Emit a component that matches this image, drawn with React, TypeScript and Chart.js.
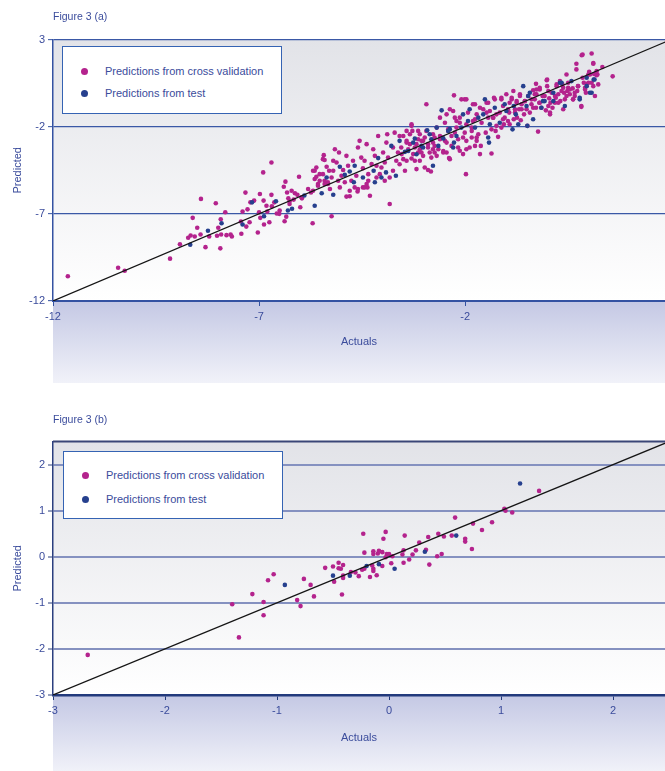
import React, { useEffect, useRef } from 'react';
import { Chart, registerables } from 'chart.js';

Chart.register(...registerables);

type Pt = [number, number];

// ---------- shared labels ----------
const SERIES_LABELS = ['Predictions from cross validation', 'Predictions from test'];
const X_TITLE = 'Actuals';
const Y_TITLE = 'Predicted';

// ---------- Figure 3 (a) ----------
const TITLE_A = 'Figure 3 (a)';
const X_RANGE_A: Pt = [-12, 2.85];
const Y_RANGE_A: Pt = [-12, 3];
const X_TICKS_A = [-12, -7, -2];
const Y_TICKS_A = [3, -2, -7, -12];
const DIAG_A = [-12, 3];

const CV_A: Pt[] = [
  [-11.64, -10.58], [-10.42, -10.09], [-10.26, -10.26], [-9.16, -9.57], [-8.92, -8.75], [-8.72, -8.37],
  [-8.66, -8.24], [-8.56, -8.3], [-8.61, -7.23], [-8.5, -7.8], [-8.41, -6.14], [-8.42, -8.18], [-8.3, -8.91],
  [-8.21, -8.3], [-8.05, -6.39], [-8.02, -8.26], [-7.99, -7.8], [-7.93, -7.31], [-7.94, -8.98], [-7.92, -8.18],
  [-7.82, -6.91], [-7.79, -8.22], [-7.69, -8.18], [-7.66, -8.3], [-7.44, -7.44], [-7.43, -8.14], [-7.4, -6.87],
  [-7.33, -5.78], [-7.31, -7.73], [-7.28, -6.74], [-7.23, -7.48], [-7.21, -6.34], [-7.12, -6.24], [-7.0, -6.91],
  [-6.98, -5.86], [-7.03, -8.07], [-6.97, -7.23], [-6.89, -6.24], [-6.9, -4.62], [-6.88, -7.61], [-6.82, -6.53],
  [-6.8, -6.87], [-6.75, -7.48], [-6.7, -4.05], [-6.69, -6.57], [-6.7, -5.91], [-6.63, -6.34], [-6.57, -6.98],
  [-6.51, -7.0], [-6.5, -6.81], [-6.4, -5.44], [-6.36, -5.15], [-6.38, -7.42], [-6.34, -7.16], [-6.32, -5.77],
  [-6.29, -6.11], [-6.26, -6.28], [-6.26, -6.43], [-6.21, -5.67], [-6.16, -6.18], [-6.13, -5.82], [-6.07, -5.91],
  [-6.03, -4.87], [-6.0, -6.62], [-5.96, -6.11], [-5.81, -5.57], [-5.74, -5.77], [-5.7, -7.54], [-5.69, -4.53],
  [-5.65, -5.0], [-5.61, -4.34], [-5.57, -5.29], [-5.53, -4.72], [-5.43, -3.63], [-5.45, -3.86], [-5.41, -5.29],
  [-5.33, -5.19],
  [-5.97, -6.05], [-5.69, -5.67], [-5.65, -4.53], [-5.61, -4.87], [-5.53, -5.1], [-5.45, -4.72], [-5.41, -3.91],
  [-5.36, -4.3], [-5.33, -5.29], [-5.28, -5.57], [-5.24, -4.91], [-5.2, -4.53], [-5.16, -3.29], [-5.12, -4.05],
  [-5.06, -3.48], [-5.0, -4.81], [-4.96, -4.48], [-4.92, -5.19], [-4.88, -6.01], [-4.84, -4.24], [-4.76, -5.1],
  [-4.72, -3.95], [-4.64, -4.81], [-4.6, -5.57], [-4.56, -2.81], [-4.52, -3.77], [-4.48, -4.38], [-4.44, -3.95],
  [-4.39, -5.29], [-4.35, -4.72], [-4.31, -5.96], [-4.27, -4.14], [-4.23, -3.29], [-4.19, -3.67], [-4.15, -4.24],
  [-4.11, -2.53], [-4.07, -4.72], [-3.99, -3.48], [-3.95, -4.05], [-3.89, -2.43], [-3.87, -3.77], [-3.83, -4.91],
  [-3.75, -3.19], [-3.71, -2.34], [-3.67, -3.95], [-3.63, -3.48], [-3.55, -3.19], [-3.5, -3.86], [-3.46, -4.53],
  [-3.42, -2.91], [-3.34, -2.43], [-3.3, -1.86], [-3.3, -3.82], [-3.22, -3.19], [-3.18, -4.43], [-3.14, -2.72],
  [-3.1, -3.95], [-3.06, -3.48], [-3.02, -2.81], [-2.98, -4.34], [-2.94, -0.71], [-2.9, -3.19], [-2.82, -3.77],
  [-2.78, -2.91], [-2.74, -3.48], [-2.69, -2.05], [-2.61, -2.53], [-2.53, -3.39], [-2.49, -2.81], [-2.45, -1.29],
  [-2.41, -2.24], [-2.39, -3.8], [-2.33, -3.1], [-2.29, -1.1], [-2.27, -0.2], [-2.25, -2.34], [-2.21, -1.67],
  [-2.17, -3.19], [-2.13, -1.48], [-2.05, -2.62], [-2.01, -0.43], [-1.98, -4.72], [-1.97, -1.86], [-1.93, -1.19],
  [-1.84, -2.24], [-1.81, -1.67], [-1.76, -0.71], [-1.72, -1.29], [-1.68, -2.43], [-3.83, -6.43], [-2.9, -4.48],
  [-2.83, -4.57],
  [-4.8, -5.99], [-5.24, -7.14], [-4.61, -5.71], [-4.48, -5.48], [-4.37, -5.48],
  [-5.57, -5.38], [-5.41, -5.1], [-5.3, -4.53], [-5.08, -5.1], [-5.04, -5.48], [-4.8, -5.67], [-4.68, -5.48],
  [-4.44, -5.48], [-4.35, -5.1], [-4.15, -4.91], [-4.03, -4.34], [-3.95, -5.1], [-3.75, -4.53], [-3.59, -4.15],
  [-3.42, -3.95], [-3.22, -3.95], [-3.02, -3.67], [-5.2, -3.95], [-4.88, -3.67], [-4.6, -3.19], [-4.39, -3.0],
  [-3.91, -2.91], [-3.59, -2.53], [-3.42, -2.24], [-3.14, -2.24],
  [-1.56, -1.0], [-1.48, -1.19], [-1.44, -1.48], [-1.36, -2.15], [-1.36, -3.54], [-1.28, -0.43], [-1.24, -1.29],
  [-1.2, -2.58], [-1.12, -0.34], [-1.08, -0.81], [-1.04, -1.48], [-0.96, -1.67], [-0.92, -0.62], [-0.87, -0.43],
  [-0.83, 0.05], [-0.79, -1.0], [-0.74, -1.48], [-0.67, -0.14], [-0.65, -1.63], [-0.55, -0.53], [-0.51, -1.0],
  [-0.39, -0.71], [-0.31, -0.43], [-0.27, -0.14], [-0.23, -2.28], [-0.19, 0.23], [-0.15, -0.91], [-0.07, -0.24],
  [-0.02, 0.67], [0.02, 0.05], [0.06, -1.29], [0.07, -0.62], [0.18, -0.62], [0.22, 0.43], [0.26, -0.14],
  [0.3, 0.62], [0.38, -1.0], [0.42, -0.43], [0.46, 1.0], [0.5, 0.23], [0.54, -0.14], [0.62, -0.43], [0.7, 1.61],
  [0.74, 0.33], [0.82, -0.81], [0.85, 2.14], [0.91, 0.23], [0.99, 0.52], [1.03, 1.0], [1.07, 2.2], [1.11, 1.61],
  [1.11, 0.33], [1.15, -0.24], [1.21, 1.0], [1.33, 1.43], [1.58, 0.89], [-2.41, -2.14], [-2.74, -2.62],
  [-2.05, -3.57], [-2.37, -3.86], [-1.97, -3.29], [-1.64, -3.57], [-1.72, -2.81], [-1.89, -3.19],
  [-1.44, -0.62], [-1.32, -1.48], [-1.26, -2.24], [-1.12, -2.05], [-1.06, -1.86], [-0.93, -1.19], [-0.82, -1.57],
  [-0.75, -0.62], [-0.69, -1.0], [-0.63, -0.71], [-0.57, -1.29], [-0.43, -1.19], [-0.28, -0.91], [-0.2, -0.62],
  [-0.12, -0.24], [-0.04, -1.06], [0.04, -0.37], [0.12, -0.91], [0.2, -0.34], [0.31, -0.53], [0.4, -0.05],
  [0.48, 0.05], [0.61, 0.2], [0.66, -0.24], [0.72, 0.05], [0.88, 0.52], [0.36, 0.43], [-0.01, 0.33],
  [-0.19, 0.14], [-0.35, 0.09], [-0.28, 0.46],
  [0.83, 2.1], [1.13, 1.03], [1.01, 1.15], [1.19, 0.96], [0.95, 0.43], [0.93, -0.05], [-0.01, 0.71],
  [-3.5, -2.53], [-3.42, -2.81], [-3.38, -3.29], [-3.3, -1.95], [-3.28, -2.24], [-3.18, -3.0], [-3.14, -3.48],
  [-3.1, -2.43], [-3.06, -2.81], [-2.98, -2.62], [-2.94, -2.24], [-2.9, -3.0], [-2.86, -3.48], [-2.78, -2.43],
  [-2.74, -3.1], [-2.65, -3.29], [-2.61, -1.48], [-2.55, -2.62], [-2.53, -3.48], [-2.49, -1.77], [-2.45, -2.91],
  [-2.37, -1.0], [-2.33, -2.53], [-2.25, -1.48], [-2.21, -2.05], [-2.17, -2.72], [-2.13, -1.77], [-2.09, -0.43],
  [-2.01, -2.34], [-1.97, -0.43], [-1.84, -2.05], [-1.81, -0.71], [-1.76, -1.57], [-1.72, -2.62], [-1.64, -0.91],
  [-1.62, -3.1], [-1.6, -1.77], [-1.5, -2.34], [-1.48, -0.62], [-1.4, -1.1], [-1.32, -1.48], [-1.3, -0.34],
  [-1.24, -1.95], [-1.16, -1.19], [-1.12, -0.43], [-1.08, -1.57], [-1.0, -0.14], [-0.96, -1.0], [-0.92, -1.86],
  [-0.87, -0.34], [-0.79, -1.19], [-0.75, -0.53], [-0.67, -0.24], [-0.63, -1.0], [-0.55, -0.53], [-0.49, -1.95],
  [-0.47, -0.24], [-0.39, -0.43], [-0.35, -0.91], [-0.31, -0.14], [-0.27, 0.14], [-0.19, -0.62], [-0.11, -0.24],
  [0.02, -0.81], [0.06, -1.19], [0.1, -0.05], [0.18, -0.24], [0.22, 0.33], [0.26, -0.62], [0.34, 0.05],
  [0.38, 0.24], [0.46, -0.24], [0.5, 0.52], [0.54, 0.14], [0.62, -0.43], [0.66, -0.05], [0.7, 1.29], [0.74, 0.33],
  [0.82, -0.86], [0.85, 0.81], [0.91, 0.14], [0.99, 1.0], [1.07, 0.52], [1.11, 1.66], [1.19, 1.19], [1.23, 0.43],
  [-3.54, -3.57], [-3.34, -3.0], [-3.26, -3.57], [-3.1, -3.29], [-2.78, -3.29], [-2.69, -3.67], [-2.45, -3.48],
  [-2.61, -2.72], [-2.13, -3.38], [-1.97, -2.81], [-1.84, -2.62], [-1.76, -3.1],
];

const TEST_A: Pt[] = [
  [-8.67, -8.77], [-8.24, -7.97], [-7.91, -7.54], [-7.4, -7.61], [-7.17, -6.34], [-6.88, -7.14], [-6.59, -6.28],
  [-6.3, -6.81], [-6.2, -6.71], [-5.9, -5.95], [-5.65, -6.53], [-5.48, -5.82], [-5.36, -4.91],
  [-5.2, -5.9], [-5.04, -4.3], [-4.92, -4.76], [-4.8, -4.57], [-4.68, -4.24], [-4.7, -5.19], [-4.48, -4.91],
  [-4.22, -4.53], [-4.11, -3.8], [-4.03, -4.91], [-3.92, -4.62], [-3.79, -3.1], [-3.68, -4.81], [-3.59, -2.81],
  [-3.38, -3.39], [-3.26, -2.91], [-3.18, -3.58], [-3.06, -3.1], [-2.92, -2.2], [-2.86, -2.43], [-2.78, -4.24],
  [-2.65, -3.1], [-2.57, -1.06], [-2.53, -2.67], [-2.37, -2.14], [-2.27, -2.91], [-2.21, -2.53], [-2.09, -2.05],
  [-2.05, -1.29], [-1.89, -1.0], [-1.76, -2.05], [-4.19, -5.19],
  [-1.52, -0.43], [-1.4, -1.86], [-1.42, -2.91], [-1.16, -1.77], [-1.0, -1.1], [-0.85, -2.15], [-0.77, -1.29],
  [-0.71, -1.86], [-0.59, 0.33], [-0.47, -0.24], [-0.43, -0.05], [-0.35, -1.57], [-0.11, -0.53], [0.14, -0.05],
  [0.34, 0.52], [0.58, 0.62], [0.78, -0.43], [0.95, 0.81], [1.07, -0.05], [1.12, 0.71], [-0.49, -1.95],
  [-3.46, -3.44], [-3.22, -2.68], [-3.02, -3.19], [-2.82, -2.72], [-2.69, -2.05], [-2.41, -2.24], [-2.29, -3.19],
  [-1.93, -1.67], [-1.68, -1.48], [-1.56, -1.29], [-1.44, -2.62], [-1.28, -0.91], [-1.04, -0.71], [-0.82, -0.81],
  [-0.51, -0.81], [-0.15, -0.91], [-0.07, -0.53], [0.14, -0.53], [0.3, 0.52], [0.42, -0.81], [0.78, -0.34],
  [0.95, 0.33], [1.03, -0.05], [1.14, 0.71],
];

// ---------- Figure 3 (b) ----------
const TITLE_B = 'Figure 3 (b)';
const X_RANGE_B: Pt = [-3, 2.464];
const Y_RANGE_B: Pt = [-3, 2.5];
const X_TICKS_B = [-3, -2, -1, 0, 1, 2];
const Y_TICKS_B = [2, 1, 0, -1, -2, -3];
const DIAG_B = [-3, 2.5];

const CV_B: Pt[] = [
  [-2.69, -2.13], [-1.4, -1.03], [-1.34, -1.75], [-1.22, -0.81], [-1.12, -0.98], [-1.12, -1.27], [-1.08, -0.51],
  [-1.03, -0.38], [-0.82, -0.94], [-0.79, -1.07], [-0.76, -0.48], [-0.7, -0.61], [-0.67, -0.86], [-0.57, -0.24],
  [-0.5, -0.21], [-0.49, -0.54], [-0.45, -0.13], [-0.45, -0.25], [-0.43, -0.26], [-0.41, -0.18], [-0.42, -0.82],
  [-0.41, -0.41], [-0.41, -0.46], [-0.34, -0.33], [-0.3, -0.34], [-0.27, -0.42], [-0.24, -0.28], [-0.22, -0.26],
  [-0.23, 0.5], [-0.22, 0.09], [-0.17, -0.44], [-0.15, -0.19], [-0.14, -0.26], [-0.14, -0.31], [-0.14, 0.12],
  [-0.14, 0.06], [-0.11, -0.4], [-0.1, 0.07], [-0.09, 0.13], [-0.06, -0.2], [-0.06, 0.1], [-0.05, 0.39],
  [-0.03, 0.54], [-0.03, -0.01], [-0.02, 0.06], [0.0, 0.06], [0.02, -0.14], [0.03, 0.01], [0.12, 0.05],
  [0.13, 0.14], [0.14, 0.46], [0.13, -0.13], [0.18, -0.06], [0.21, 0.05], [0.24, 0.14], [0.27, 0.31],
  [0.33, 0.15], [0.36, -0.17], [0.35, 0.43], [0.43, 0.01], [0.44, 0.5], [0.47, 0.06], [0.49, 0.44], [0.56, 0.46],
  [0.68, 0.39], [0.68, 0.33], [0.59, 0.85], [0.74, 0.17], [0.75, 0.72], [0.83, 0.58], [0.92, 0.75], [1.03, 1.04],
  [1.04, 1.0], [1.1, 0.96], [1.34, 1.43],
];

const TEST_B: Pt[] = [
  [-0.93, -0.61], [-0.5, -0.41], [-0.35, -0.41], [-0.2, -0.2], [-0.09, -0.16], [0.05, -0.26], [0.32, 0.11],
  [0.6, 0.46], [1.17, 1.59],
];

// ---------- styling ----------
const FONT = '"Liberation Sans", Arial, Helvetica, sans-serif';
const TEXT = '#3b4c9c';
const MAGENTA = '#b4238d';
const NAVY = '#26408e';

type FigSpec = {
  title: string;
  height: number;
  titlePad: { top: number; bottom: number };
  xAxisHeight: number;
  xTitlePadBottom: number;
  band: number;
  xRange: Pt;
  yRange: Pt;
  xTicks: number[];
  yTicks: number[];
  diag: number[];
  cv: Pt[];
  test: Pt[];
  gridColor: string;
  gridWidth: number;
  xBorder: string;
  xBorderWidth: number;
  yBorder: string;
  topLine: string | null;
  legend: { left: number; top: number; width: number; height: number; row1: number; row2: number };
};

const bgPlugin = {
  id: 'figBg',
  beforeDraw(chart: any, _args: any, opts: any) {
    const { ctx, chartArea } = chart;
    if (!chartArea) return;
    const { left, top, right, bottom } = chartArea;
    ctx.save();
    const g = ctx.createLinearGradient(0, top, 0, bottom);
    g.addColorStop(0, '#e2e3e8');
    g.addColorStop(1, '#ffffff');
    ctx.fillStyle = g;
    ctx.fillRect(left, top, right - left, bottom - top);
    const g2 = ctx.createLinearGradient(0, bottom, 0, bottom + opts.band);
    g2.addColorStop(0, '#c4c8e4');
    g2.addColorStop(1, '#f1f2f9');
    ctx.fillStyle = g2;
    ctx.fillRect(left, bottom, chart.width - left, opts.band);
    ctx.restore();
  },
  afterDraw(chart: any, _args: any, opts: any) {
    if (!opts.topLine) return;
    const { ctx, chartArea } = chart;
    ctx.save();
    ctx.strokeStyle = opts.topLine;
    ctx.lineWidth = 2;
    ctx.beginPath();
    ctx.moveTo(chartArea.left, chartArea.top);
    ctx.lineTo(chartArea.right, chartArea.top);
    ctx.stroke();
    ctx.restore();
  },
};

const toXY = (pts: Pt[]) => pts.map(([x, y]) => ({ x, y }));

function Figure({ spec, top }: { spec: FigSpec; top: number }) {
  const ref = useRef<HTMLCanvasElement | null>(null);

  useEffect(() => {
    if (!ref.current) return;
    const s = spec;
    const chart = new Chart(ref.current, {
      type: 'scatter',
      data: {
        datasets: [
          {
            label: SERIES_LABELS[0],
            data: toXY(s.cv),
            backgroundColor: MAGENTA,
            pointRadius: 2.3,
            pointHoverRadius: 2.3,
            pointBorderWidth: 0,
            order: 2,
          },
          {
            label: SERIES_LABELS[1],
            data: toXY(s.test),
            backgroundColor: NAVY,
            pointRadius: 2.3,
            pointHoverRadius: 2.3,
            pointBorderWidth: 0,
            order: 1,
          },
          {
            type: 'line',
            label: 'y = x',
            data: s.diag.map((v) => ({ x: v, y: v })),
            borderColor: '#151515',
            borderWidth: 1.2,
            pointRadius: 0,
            pointHoverRadius: 0,
            showLine: true,
            fill: false,
            order: 0,
          } as any,
        ],
      },
      options: {
        responsive: false,
        animation: false,
        layout: { padding: 0, autoPadding: false },
        plugins: {
          legend: { display: false },
          tooltip: { enabled: false },
          title: {
            display: true,
            text: s.title,
            align: 'start',
            fullSize: false,
            color: TEXT,
            font: { family: FONT, size: 10.5, weight: 'normal' },
            padding: s.titlePad,
          },
          figBg: { band: s.band, topLine: s.topLine },
        } as any,
        scales: {
          x: {
            type: 'linear',
            min: s.xRange[0],
            max: s.xRange[1],
            afterBuildTicks: (sc: any) => {
              sc.ticks = s.xTicks.map((v) => ({ value: v }));
            },
            afterFit: (sc: any) => {
              sc.height = s.xAxisHeight;
              sc.paddingLeft = 0;
              sc.paddingRight = 0;
            },
            grid: {
              drawOnChartArea: false,
              drawTicks: true,
              tickLength: 5,
              tickColor: s.xBorder,
              tickWidth: 1,
            },
            border: { color: s.xBorder, width: s.xBorderWidth },
            ticks: { color: TEXT, font: { family: FONT, size: 11 }, padding: 4, maxRotation: 0, autoSkip: false },
            title: {
              display: true,
              text: X_TITLE,
              color: TEXT,
              font: { family: FONT, size: 11 },
              padding: { top: 0, bottom: s.xTitlePadBottom },
            },
          },
          y: {
            type: 'linear',
            min: s.yRange[0],
            max: s.yRange[1],
            afterBuildTicks: (sc: any) => {
              sc.ticks = s.yTicks.map((v) => ({ value: v }));
            },
            afterFit: (sc: any) => {
              sc.width = 53;
            },
            grid: {
              color: s.gridColor,
              lineWidth: s.gridWidth,
              drawTicks: true,
              tickLength: 5,
              tickColor: s.yBorder,
              tickWidth: 1,
            },
            border: { color: s.yBorder, width: 1.5 },
            ticks: { color: TEXT, font: { family: FONT, size: 11 }, padding: 3, autoSkip: false },
            title: {
              display: true,
              text: Y_TITLE,
              color: TEXT,
              font: { family: FONT, size: 11 },
              padding: { top: 11, bottom: 0 },
            },
          },
        },
      } as any,
      plugins: [bgPlugin as any],
    });
    return () => chart.destroy();
  }, [spec]);

  const lg = spec.legend;
  const rowStyle = (y: number): React.CSSProperties => ({
    position: 'absolute',
    left: 0,
    top: y - 8,
    height: 16,
    display: 'flex',
    alignItems: 'center',
    whiteSpace: 'nowrap',
  });
  const dot = (c: string): React.CSSProperties => ({
    position: 'absolute',
    left: 18,
    top: 4.5,
    width: 7,
    height: 7,
    borderRadius: '50%',
    background: c,
  });
  const label: React.CSSProperties = {
    position: 'absolute',
    left: 42,
    top: 0,
    lineHeight: '16px',
    fontSize: 11,
    color: TEXT,
    fontFamily: FONT,
  };

  return (
    <div style={{ position: 'absolute', left: 0, top, width: 665, height: spec.height }}>
      <canvas ref={ref} width={665} height={spec.height} style={{ display: 'block', width: 665, height: spec.height }} />
      <div
        style={{
          position: 'absolute',
          left: lg.left,
          top: lg.top,
          width: lg.width,
          height: lg.height,
          boxSizing: 'border-box',
          border: '1px solid #3563b3',
          background: '#ffffff',
        }}
      >
        <div style={rowStyle(lg.row1)}>
          <span style={dot(MAGENTA)} />
          <span style={label}>{SERIES_LABELS[0]}</span>
        </div>
        <div style={rowStyle(lg.row2)}>
          <span style={dot(NAVY)} />
          <span style={label}>{SERIES_LABELS[1]}</span>
        </div>
      </div>
    </div>
  );
}

const SPEC_A: FigSpec = {
  title: TITLE_A,
  height: 395,
  titlePad: { top: 11, bottom: 16 },
  xAxisHeight: 94,
  xTitlePadBottom: 46,
  band: 82,
  xRange: X_RANGE_A,
  yRange: Y_RANGE_A,
  xTicks: X_TICKS_A,
  yTicks: Y_TICKS_A,
  diag: DIAG_A,
  cv: CV_A,
  test: TEST_A,
  gridColor: '#3a58a6',
  gridWidth: 1.3,
  xBorder: '#3452a2',
  xBorderWidth: 2,
  yBorder: '#3452a2',
  topLine: null,
  legend: { left: 62, top: 46, width: 220, height: 68, row1: 24, row2: 46 },
};

const SPEC_B: FigSpec = {
  title: TITLE_B,
  height: 371,
  titlePad: { top: 14, bottom: 15 },
  xAxisHeight: 76,
  xTitlePadBottom: 26,
  band: 77,
  xRange: X_RANGE_B,
  yRange: Y_RANGE_B,
  xTicks: X_TICKS_B,
  yTicks: Y_TICKS_B,
  diag: DIAG_B,
  cv: CV_B,
  test: TEST_B,
  gridColor: '#8591c0',
  gridWidth: 2,
  xBorder: '#233a7c',
  xBorderWidth: 2.5,
  yBorder: '#2b3f7f',
  topLine: '#3a4677',
  legend: { left: 63, top: 51, width: 220, height: 68, row1: 23, row2: 47 },
};

export default function App() {
  return (
    <div style={{ position: 'absolute', left: 0, top: 0, width: 665, height: 771, background: '#ffffff', overflow: 'hidden' }}>
      <Figure spec={SPEC_A} top={0} />
      <Figure spec={SPEC_B} top={400} />
    </div>
  );
}
